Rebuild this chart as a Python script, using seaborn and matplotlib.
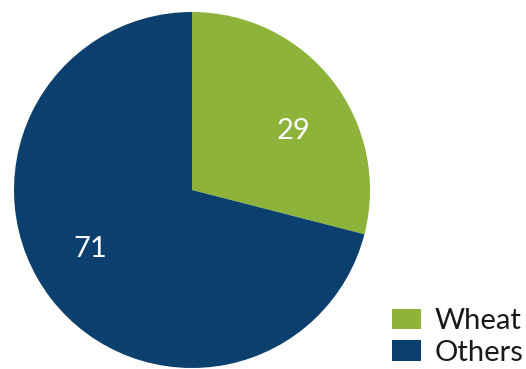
import matplotlib
matplotlib.use("Agg")
import matplotlib.pyplot as plt
import seaborn as sns
from matplotlib.patches import Patch

categories = ["Wheat", "Others"]
values = [29, 71]
colors = ["#8DB33A", "#0B3F6E"]

sns.set_style("white")
plt.rcParams['font.family'] = ['Lato', 'DejaVu Sans']

fig = plt.figure(figsize=(5.26, 3.69), dpi=100)
cx, cy, r = 192, 190, 178
W, H = 526, 369
ax = fig.add_axes([(cx - r) / W, (H - cy - r) / H, 2 * r / W, 2 * r / H])

wedges, texts, autotexts = ax.pie(values, colors=colors, startangle=90, counterclock=False,
                                  autopct=lambda p: f"{p:.0f}", pctdistance=0.72,
                                  wedgeprops=dict(linewidth=0, edgecolor="none"),
                                  textprops=dict(color="white", fontsize=21))
for t in autotexts:
    x, y = t.get_position()
    t.set_position((x, y * 0.75))
ax.set_xlim(-1, 1)
ax.set_ylim(-1, 1)
ax.set_aspect("equal")
ax.axis("off")

handles = [Patch(facecolor=c, edgecolor="none") for c in colors]
fig.legend(handles, categories, loc="lower right", bbox_to_anchor=(1.0, 0.0),
           frameon=False, fontsize=21, handlelength=1.0, handleheight=0.72,
           handletextpad=0.45, labelspacing=0.2, borderaxespad=0.0, borderpad=0.1,
           labelcolor="#1a1a1a")

fig.savefig("out.png", dpi=100)
